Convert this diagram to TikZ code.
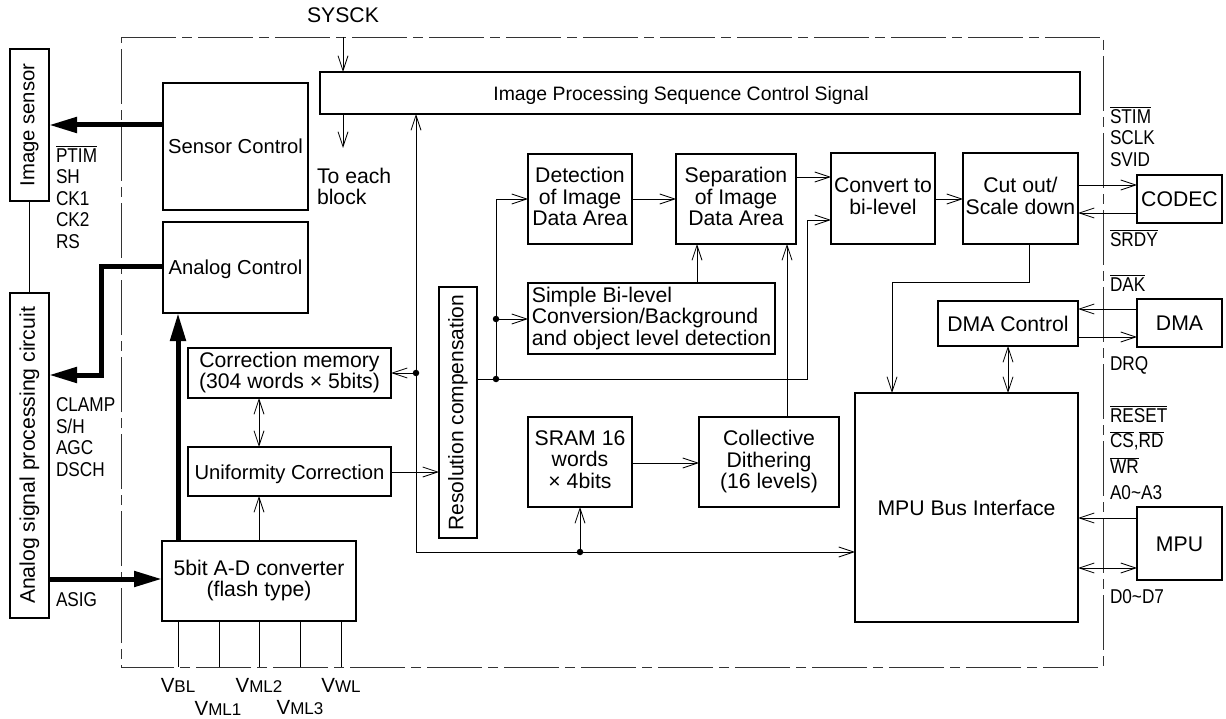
\documentclass[tikz,border=0pt]{standalone}
\usepackage{graphicx}
\usepackage{fontspec}
\setmainfont{Liberation Sans}
\newfontfamily\narrowf[FakeStretch=0.86]{Liberation Sans}
\usetikzlibrary{arrows.meta,calc}
\newcommand\ovl[1]{\leavevmode\vbox{\hrule height .8pt \kern 1.5pt\hbox{#1}}}
\newcommand\vsub[2]{#1{\fontsize{17}{17}\selectfont #2}}
\newcommand\fsm{\fontsize{20.2}{21.5}\selectfont}
\tikzset{
  x=1pt,y=-1pt,
  box/.style={draw,line width=2.4pt,fill=white,inner sep=0pt,outer sep=0pt,align=center,font=\fontsize{21.2}{21.5}\selectfont},
  tbox/.style={box,execute at begin node={\rule{0pt}{20pt}},execute at end node={\rule[-5pt]{0pt}{0pt}}},
  sig/.style={line width=.9pt,arrows={-Straight Barb[length=15pt,width=10pt,line width=.8pt]}},
  sigb/.style={line width=.9pt,arrows={Straight Barb[length=15pt,width=10pt,line width=.8pt]-Straight Barb[length=15pt,width=10pt,line width=.8pt]}},
  wire/.style={line width=.9pt},
  bus/.style={line width=5pt,arrows={-Triangle[length=28pt,width=15pt]}},
  dotn/.style={circle,fill=black,inner sep=0pt,minimum size=6.5pt},
  lab/.style={inner sep=0pt,outer sep=0pt,align=left,font=\narrowf\fontsize{20}{21.5}\selectfont},
  txt/.style={inner sep=0pt,outer sep=0pt,align=left,font=\fontsize{21.2}{21}\selectfont},
  frame/.style={line width=.9pt,draw=black!80,dash pattern=on 55pt off 6pt on 10pt off 6pt}
}
\newcommand\bx[6][]{\node[tbox,#1,minimum width={#4-#2},minimum height={#5-#3}] (#6) at ({(#2+#4)/2},{(#3+#5)/2})}
\newcommand\rx[6][]{\node[box,#1,minimum width={#4-#2},minimum height={#5-#3}] (#6) at ({(#2+#4)/2},{(#3+#5)/2})}
\begin{document}
\begin{tikzpicture}
\useasboundingbox (0,0) rectangle (1226,719);
\draw[frame] (121,37) -- (1103,37) -- (1103,667) -- (121,667) -- cycle;

\rx{10}{49}{49}{201}{is} {\fontsize{20.3}{21}\selectfont\rotatebox{90}{Image sensor}};
\rx{10}{293}{49}{618}{asp} {\rotatebox{90}{Analog signal processing circuit}};
\bx{163}{83}{308}{210}{sc} {\fsm Sensor Control};
\bx{163}{222}{308}{313}{ac} {\fsm Analog Control};
\bx{320}{72}{1080}{114}{ipc} {\hspace*{-38pt}\fontsize{19.4}{21}\selectfont Image Processing Sequence Control Signal};
\bx{188}{348}{391}{398}{cm} {Correction memory\\(304 words × 5bits)};
\bx{188}{447}{391}{496}{uc} {\fsm Uniformity Correction};
\bx{162}{541}{356}{621}{ad} {5bit A-D converter\\(flash type)};
\rx{439}{287}{477}{538}{rc} {\fontsize{21}{21}\selectfont\rotatebox{90}{Resolution compensation}};
\bx{528}{154}{632}{244}{det} {Detection\\of Image\\Data Area};
\bx{676}{154}{796}{244}{sep} {Separation\\of Image\\Data Area};
\bx[align=left]{528}{283}{775}{354}{sim} {Simple Bi-level\\Conversion/Background\\and object level detection};
\bx{528}{417}{632}{507}{sram} {SRAM 16\\words\\× 4bits};
\bx{699}{417}{839}{507}{cd} {Collective\\Dithering\\(16 levels)};
\bx{831}{153}{935}{244}{cb} {Convert to\\bi-level};
\bx{963}{153}{1078}{244}{cut} {Cut out/\\Scale down};
\bx{938}{301}{1078}{346}{dc} {DMA Control};
\bx{855}{393}{1078}{622}{mbi} {MPU Bus Interface};
\bx{1137}{175}{1222}{223}{codec} {CODEC};
\bx{1137}{299}{1222}{347}{dma} {DMA};
\bx{1137}{507}{1222}{580}{mpu} {MPU};

% free ends and junctions
\coordinate (sysin) at (343,37);
\coordinate (toeach) at (343,148);
\node[dotn] (j1) at (416,373) {};
\node[dotn] (j2) at (496,379) {};
\node[dotn] (j3) at (496,319) {};
\node[dotn] (j4) at (580,552) {};
\coordinate (k1) at (416,552);
\coordinate (f1) at (178,667);
\coordinate (f2) at (219,667);
\coordinate (f3) at (259,667);
\coordinate (f4) at (300,667);
\coordinate (f5) at (341,667);

% thick buses
\draw[bus] (sc.west |- 0,125) -- (is.east |- 0,125);
\draw[bus] (ac.west |- 0,267) -| (101,375) -- (asp.east |- 0,375);
\draw[bus] (ad.north -| 178,0) -- (ac.south -| 178,0);
\draw[bus] (asp.east |- 0,579) -- (ad.west |- 0,579);
\draw[wire] (is.south -| 29,0) -- (asp.north -| 29,0);

% thin connectors
\draw[sig] (sysin) -- (ipc.north -| sysin);
\draw[sig] (ipc.south -| toeach) -- (toeach);
\draw[sigb] (cm.south -| 259,0) -- (uc.north -| 259,0);
\draw[sig] (ad.north -| 259,0) -- (uc.south -| 259,0);
\draw[sig] (uc.east |- 0,472) -- (rc.west |- 0,472);
\draw[sig] (j1) -- (cm.east |- j1);
\draw[sig] (k1) -- (ipc.south -| k1);
\draw[sig] (k1) -- (mbi.west |- k1);
\draw[sig] (j4) -- (sram.south -| j4);
\draw[wire] (rc.east |- j2) -- (j2);
\draw[sig] (j2) -- (807,379) |- (cb.west |- 0,220);
\draw[sig] (j2) |- (det.west |- 0,199);
\draw[sig] (j3) -- (sim.west |- j3);
\draw[sig] (det.east |- 0,199) -- (sep.west |- 0,199);
\draw[sig] (sim.north -| 697,0) -- (sep.south -| 697,0);
\draw[sig] (cd.north -| 787,0) -- (sep.south -| 787,0);
\draw[sig] (sep.east |- 0,177) -- (cb.west |- 0,177);
\draw[sig] (cb.east |- 0,199) -- (cut.west |- 0,199);
\draw[sig] (cut.east |- 0,185) -- (codec.west |- 0,185);
\draw[sig] (codec.west |- 0,213) -- (cut.east |- 0,213);
\draw[sig] (cut.south -| 1029,0) -- (1029,282) -- (892,282) -- (mbi.north -| 892,0);
\draw[sigb] (dc.south -| 1008,0) -- (mbi.north -| 1008,0);
\draw[sig] (dma.west |- 0,309) -- (dc.east |- 0,309);
\draw[sig] (dc.east |- 0,337) -- (dma.west |- 0,337);
\draw[sig] (mpu.west |- 0,518) -- (mbi.east |- 0,518);
\draw[sigb] (mbi.east |- 0,568) -- (mpu.west |- 0,568);
\draw[sig] (sram.east |- 0,463) -- (cd.west |- 0,463);
\draw[wire] (ad.south -| f1) -- (f1);
\draw[wire] (ad.south -| f2) -- (f2);
\draw[wire] (ad.south -| f3) -- (f3);
\draw[wire] (ad.south -| f4) -- (f4);
\draw[wire] (ad.south -| f5) -- (f5);

% labels
\node[txt,anchor=center] (tsys) at (343,15) {SYSCK};
\node[txt,anchor=west] (teach) at (317,186) {To each\\block};
\node[lab,anchor=north west] (lsens) at (56,146) {\ovl{PTIM}\\SH\\CK1\\CK2\\RS};
\node[lab,anchor=north west] (lanal) at (56,398) {CLAMP\\S/H\\AGC\\DSCH};
\node[lab,anchor=west] (lasig) at (56,600) {ASIG};
\node[lab,anchor=north west] (lcod) at (1110,107) {\ovl{STIM}\\SCLK\\SVID};
\node[lab,anchor=west] (lsrdy) at (1110,238) {\ovl{SRDY}};
\node[lab,anchor=west] (ldak) at (1110,283) {\ovl{DAK}};
\node[lab,anchor=west] (ldrq) at (1110,365) {DRQ};
\node[lab,anchor=north west,font=\narrowf\fontsize{20}{25.7}\selectfont] (lmpu) at (1110,406) {\ovl{RESET}\\\ovl{CS},\ovl{RD}\\\ovl{WR}\\A0\textasciitilde A3};
\node[lab,anchor=west] (ld) at (1110,597) {D0\textasciitilde D7};
\node[txt,anchor=center,font=\fontsize{20.5}{21}\selectfont] (v1) at (178,685) {\vsub{V}{BL}};
\node[txt,anchor=center,font=\fontsize{20.5}{21}\selectfont] (v2) at (218,708) {\vsub{V}{ML1}};
\node[txt,anchor=center,font=\fontsize{20.5}{21}\selectfont] (v3) at (259,685) {\vsub{V}{ML2}};
\node[txt,anchor=center,font=\fontsize{20.5}{21}\selectfont] (v4) at (300,708) {\vsub{V}{ML3}};
\node[txt,anchor=center,font=\fontsize{20.5}{21}\selectfont] (v5) at (341,685) {\vsub{V}{WL}};
\end{tikzpicture}
\end{document}
